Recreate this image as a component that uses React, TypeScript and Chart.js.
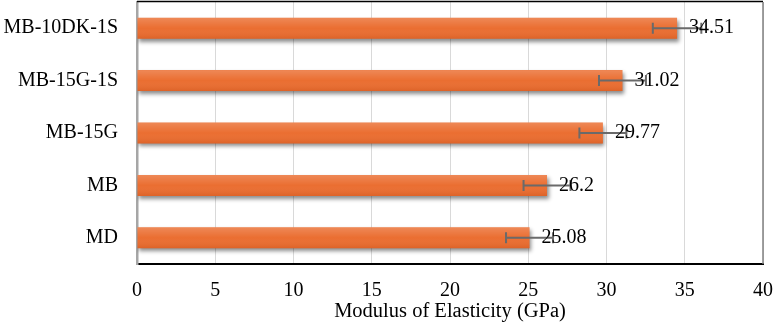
import React, { useEffect, useRef } from 'react';
import { Chart, registerables } from 'chart.js';

Chart.register(...registerables);

// Specimen groups, listed top to bottom
const categories = ['MB-10DK-1S', 'MB-15G-1S', 'MB-15G', 'MB', 'MD'];
// Mean modulus of elasticity (GPa)
const modulus = [34.51, 31.02, 29.77, 26.2, 25.08];
// Standard deviation shown as error bars (GPa)
const errorMargins = [1.55, 1.5, 1.5, 1.5, 1.5];
// Axis range
const axisMin = 0;
const axisMax = 40;
const axisStep = 5;

const FONT = '"Liberation Serif", "Times New Roman", serif';

const barDecor = {
  id: 'barDecor',
  beforeDatasetDraw(chart: any) {
    const ctx = chart.ctx;
    ctx.save();
    ctx.shadowColor = 'rgba(0,0,0,0.45)';
    ctx.shadowBlur = 4;
    ctx.shadowOffsetX = 1.5;
    ctx.shadowOffsetY = 3;
  },
  afterDatasetDraw(chart: any) {
    const ctx = chart.ctx;
    ctx.restore();
    const xs = chart.scales.x;
    const meta = chart.getDatasetMeta(0);
    const area = chart.chartArea;

    // frame: top and right edges of the plot area
    ctx.save();
    ctx.lineWidth = 1.5;
    ctx.strokeStyle = '#000000';
    ctx.beginPath();
    ctx.moveTo(area.left, area.top - 0.5);
    ctx.lineTo(area.right, area.top - 0.5);
    ctx.stroke();
    ctx.strokeStyle = '#808080';
    ctx.beginPath();
    ctx.moveTo(area.right, area.top);
    ctx.lineTo(area.right, area.bottom);
    ctx.stroke();
    ctx.restore();

    meta.data.forEach((bar: any, i: number) => {
      const { x, y, base, height } = bar.getProps(['x', 'y', 'base', 'height'], true);
      const top = y - height / 2;

      // soft sheen across each bar
      ctx.save();
      const g = ctx.createLinearGradient(0, top, 0, top + height);
      g.addColorStop(0, 'rgba(255,255,255,0.2)');
      g.addColorStop(0.5, 'rgba(255,255,255,0.02)');
      g.addColorStop(1, 'rgba(140,40,0,0.14)');
      ctx.fillStyle = g;
      ctx.fillRect(base, top, x - base, height);
      ctx.restore();

      // error bar
      const lo = xs.getPixelForValue(modulus[i] - errorMargins[i]);
      const hi = xs.getPixelForValue(modulus[i] + errorMargins[i]);
      const cap = 5.5;
      ctx.save();
      ctx.strokeStyle = '#6a6a6a';
      ctx.lineWidth = 2;
      ctx.beginPath();
      ctx.moveTo(lo, y);
      ctx.lineTo(hi, y);
      ctx.moveTo(lo, y - cap);
      ctx.lineTo(lo, y + cap);
      ctx.moveTo(hi, y - cap);
      ctx.lineTo(hi, y + cap);
      ctx.stroke();
      ctx.restore();

      // value label
      ctx.save();
      ctx.fillStyle = '#000000';
      ctx.font = `20px ${FONT}`;
      ctx.textAlign = 'left';
      ctx.textBaseline = 'middle';
      ctx.fillText(String(modulus[i]), x + 12, y);
      ctx.restore();
    });
  },
};

export default function App() {
  const canvasRef = useRef<HTMLCanvasElement | null>(null);

  useEffect(() => {
    if (!canvasRef.current) return;
    const chart = new Chart(canvasRef.current, {
      type: 'bar',
      data: {
        labels: categories,
        datasets: [
          {
            label: 'Modulus of Elasticity',
            data: modulus,
            backgroundColor: '#EA6B2D',
            borderWidth: 0,
            categoryPercentage: 1,
            barPercentage: 0.4,
          },
        ],
      },
      options: {
        indexAxis: 'y',
        animation: false,
        responsive: true,
        maintainAspectRatio: false,
        layout: { padding: { left: 0, right: 10, top: 2, bottom: 0 } },
        plugins: {
          legend: { display: false },
          tooltip: { enabled: false },
        },
        scales: {
          x: {
            min: axisMin,
            max: axisMax,
            ticks: {
              stepSize: axisStep,
              color: '#000000',
              font: { family: FONT, size: 20 },
              padding: 15,
            },
            grid: {
              color: '#d9d9d9',
              lineWidth: 1,
              drawTicks: false,
            },
            border: { display: true, color: '#000000', width: 2 },
            title: {
              display: true,
              text: 'Modulus of Elasticity (GPa)',
              color: '#000000',
              font: { family: FONT, size: 20.5 },
              padding: { top: 0, bottom: 9 },
            },
            afterFit(scale: any) {
              scale.height = 69;
              scale.paddingLeft = 0;
              scale.paddingRight = 0;
            },
          },
          y: {
            ticks: {
              color: '#000000',
              font: { family: FONT, size: 20 },
              padding: 19,
            },
            grid: { display: false, drawTicks: false },
            border: { display: true, color: '#a6a6a6', width: 2.5 },
            afterFit(scale: any) {
              scale.width = 137;
              scale.paddingTop = 0;
              scale.paddingBottom = 0;
            },
          },
        },
      },
      plugins: [barDecor],
    });
    return () => chart.destroy();
  }, []);

  return (
    <div style={{ position: 'absolute', left: 0, top: 0, width: 773, height: 333, background: '#ffffff' }}>
      <canvas ref={canvasRef} />
    </div>
  );
}
